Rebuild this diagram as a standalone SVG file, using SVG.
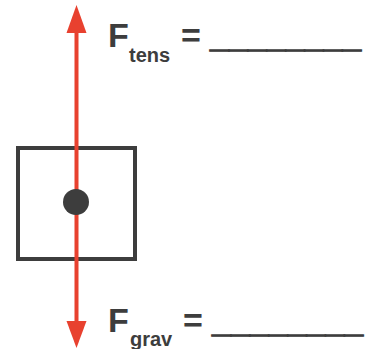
<svg xmlns="http://www.w3.org/2000/svg" width="365" height="349" viewBox="0 0 365 349">
<style>
.lbl{font-family:"Liberation Sans",Arial,sans-serif;font-weight:bold;fill:#3d3d3d}
.big{font-size:34px}
.sub{font-size:20px}
.blank{stroke:#3d3d3d;stroke-width:1.2}
</style>
<rect width="365" height="349" fill="#ffffff"/>
<g id="box">
<rect x="18" y="148" width="117" height="111" fill="none" stroke="#3d3d3d" stroke-width="4"/>
</g>
<g id="connectors">
<line x1="76.5" y1="30" x2="76.5" y2="324" stroke="#e8412f" stroke-width="4"/>
<path d="M66.5,33 L76.5,5 L86.5,33 Z" fill="#e8412f"/>
<path d="M66.5,321 L76.5,348 L86.5,321 Z" fill="#e8412f"/>
</g>
<g id="dot">
<circle cx="76" cy="202" r="13" fill="#3d3d3d"/>
</g>
<g id="ftens">
<text class="lbl big" x="108" y="47">F</text>
<text class="lbl sub" x="129" y="62">tens</text>
<text class="lbl big" x="181" y="47">=</text>
<text class="lbl big blank" x="210" y="47">________</text>
</g>
<g id="fgrav">
<text class="lbl big" x="108" y="332">F</text>
<text class="lbl sub" x="130" y="346">grav</text>
<text class="lbl big" x="183" y="332">=</text>
<text class="lbl big blank" x="212" y="332">________</text>
</g>
</svg>
